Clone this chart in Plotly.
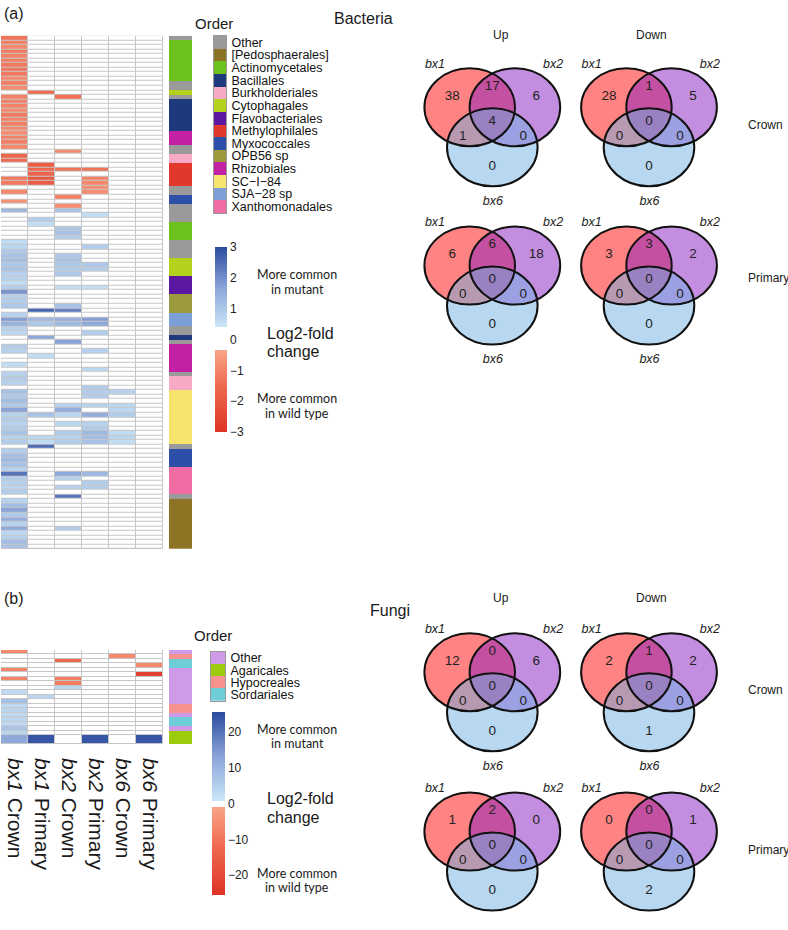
import plotly.graph_objects as go

W, H = 788, 930
FONT = "Liberation Sans, Arial, sans-serif"

# ---------------- data ----------------
sample_labels = ["<i>bx1</i> Crown", "<i>bx1</i> Primary", "<i>bx2</i> Crown",
                 "<i>bx2</i> Primary", "<i>bx6</i> Crown", "<i>bx6</i> Primary"]

# Bacteria: log2-fold change per OTU (rows top->bottom), one list per sample column
bact_bx1_crown = [
    -1.3, -1.1, -0.9, -1.2, -1.0, -1.1, -1.2, -1.3, -1.2, -0.9,
    -1.1, -0.8, 0, -1.0, -1.1, -1.0, -0.9, -1.2, -1.0, -1.1,
    -0.9, -0.8, -1.0, -1.1, -0.9, 0, -1.6, -1.5, 0, 0,
    0, -1.2, -1.2, 0, -0.9, 0, -0.7, 0, 1.3, 0,
    0, 0, 0, 0, 0, 0.6, 0.7, 1.0, 1.1, 1.2,
    1.0, 1.1, 0.8, 0.8, 0.6, 0.9, 1.9, 0.8, 0.9, 1.0,
    0, 0.8, 1.8, 1.4, 0.8, 0.7, 0, 0, 0.9, 0.8,
    0, 0, 0.6, 0, 0.8, 0.9, 0.8, 0, 1.1, 1.0,
    1.2, 1.0, 1.7, 0.8, 0.9, 0.8, 0.9, 1.1, 0.8, 0.9,
    0, 0.9, 1.2, 1.3, 1.1, 0.8, 2.4, 0.9, 0.8, 0.7,
    0.9, 0, 0.8, 1.2, 1.7, 1.0, 1.5, 0.8, 1.6, 0.7,
    0.8, 1.2, 1.1]
bact_bx1_primary = [
    0, 0, 0, 0, 0, 0, 0, 0, 0, 0,
    0, 0, -1.5, 0, 0, 0, 0, 0, 0, 0,
    0, 0, 0, 0, 0, 0, 0, 0, -1.8, -1.6,
    -1.7, -2.0, -1.9, 0, 0, 0, 0, 0, 0, 0,
    0.9, 0.6, 0, 0, 0, 0, 0, 0, 0, 0,
    0, 0, 0, 0, 0, 0, 0, 0, 0, 0,
    2.6, 0, 1.3, 1.0, 0, 0, 1.6, 0, 0, 0,
    0.6, 0, 0, 0, 0, 0, 0, 0, 0, 0,
    0, 0, 0, 1.1, 0, 0, 0, 0, 0.7, 0.6,
    2.5, 0, 0, 0, 0, 0, 0, 0, 0, 0,
    0, 0, 0, 0, 0, 0, 0, 0, 0, 0,
    0, 0, 0]
bact_bx2_crown = [
    0, 0, 0, 0, 0, 0, 0, 0, 0, 0,
    0, 0, 0, -1.4, 0, 0, 0, 0, 0, 0,
    0, 0, 0, 0, 0, -0.8, 0, 0, 0, -1.3,
    0, 0, 0, 0, 0, -1.0, 0, -0.8, 1.1, 0,
    0, 0, 1.0, 1.1, 0.9, 0, 0, 0, 1.0, 1.1,
    1.0, 0.9, 1.0, 0, 0, 0.6, 0, 0, 0, 1.1,
    2.2, 0, 1.5, 1.3, 0, 0, 0, 1.7, 0, 0,
    0, 0, 0, 0, 0, 0, 0, 0, 0, 0,
    0, 0.8, 1.5, 0.7, 0, 0.7, 0, 0.9, 0.8, 0.9,
    0, 0, 0, 0, 0, 0, 1.6, 0.8, 0, 0.8,
    0, 2.4, 0, 0, 0, 0, 0, 0, 0.9, 0,
    0, 0, 0]
bact_bx2_primary = [
    0, 0, 0, 0, 0, 0, 0, 0, 0, 0,
    0, 0, 0, 0, 0, 0, 0, 0, 0, 0,
    0, 0, 0, 0, 0, 0, 0, 0, 0, -1.3,
    0, -1.0, -0.9, -0.8, -0.8, 0, 0, 0, 0, 0.6,
    0, 0, 0, 0, 0, 0, 0.9, 0, 0, 0,
    1.0, 0.9, 0, 0, 0, 0.6, 0, 0, 0, 0,
    0, 0, 1.8, 1.6, 0, 0.9, 0, 0, 0, 0.8,
    0, 0, 0, 0.7, 0, 0, 0, 0.9, 0.9, 0.9,
    0, 0.8, 0, 1.5, 0, 0.8, 0.9, 1.3, 1.2, 1.1,
    0, 0, 0, 0, 0, 0, 1.3, 0, 0.9, 0.9,
    0, 0, 0, 0, 0, 0, 0, 0, 0, 0,
    0, 0, 0]
bact_bx6_crown = [
    0, 0, 0, 0, 0, 0, 0, 0, 0, 0,
    0, 0, 0, 0, 0, 0, 0, 0, 0, 0,
    0, 0, 0, 0, 0, 0, 0, 0, 0, 0,
    0, 0, 0, 0, 0, 0, 0, 0, 0, 0,
    0, 0, 0, 0, 0, 0, 0, 0, 0, 0,
    0, 0, 0, 0, 0, 0, 0, 0, 0, 0,
    0, 0, 0, 0, 0, 0, 0, 0, 0, 0,
    0, 0, 0, 0, 0, 0, 0, 0, 0.8, 0,
    0, 0.7, 0.7, 0.9, 0, 0, 0, 0.6, 0.7, 0.6,
    0, 0, 0, 0, 0, 0, 0, 0, 0, 0,
    0, 0, 0, 0, 0, 0, 0, 0, 0, 0,
    0, 0, 0]
bact_bx6_primary = [
    0, 0, 0, 0, 0, 0, 0, 0, 0, 0,
    0, 0, 0, 0, 0, 0, 0, 0, 0, 0,
    0, 0, 0, 0, 0, 0, 0, 0, 0, 0,
    0, 0, 0, 0, 0, 0, 0, 0, 0, 0,
    0, 0, 0, 0, 0, 0, 0, 0, 0, 0,
    0, 0, 0, 0, 0, 0, 0, 0, 0, 0,
    0, 0, 0, 0, 0, 0, 0, 0, 0, 0,
    0, 0, 0, 0, 0, 0, 0, 0, 0, 0,
    0, 0, 0, 0, 0, 0, 0, 0, 0, 0,
    0, 0, 0, 0, 0, 0, 0, 0, 0, 0,
    0, 0, 0, 0, 0, 0, 0, 0, 0, 0,
    0, 0, 0]

bact_order_names = ["Other", "[Pedosphaerales]", "Actinomycetales", "Bacillales",
                    "Burkholderiales", "Cytophagales", "Flavobacteriales", "Methylophilales",
                    "Myxococcales", "OPB56 sp", "Rhizobiales", "SC\u2212I\u221284",
                    "SJA\u221228 sp", "Xanthomonadales"]
bact_order_colors = ["#9a9a9a", "#8c7424", "#6cc11a", "#1f3a7c", "#f8a9c6", "#b3d21c",
                     "#5c18a2", "#e0392b", "#2c50a8", "#9b9a3c", "#c320a5", "#f6e46f",
                     "#7c9fd8", "#f06ca5"]
# order of each OTU row, as (order, number of consecutive rows)
bact_order_runs = [("Other", 1), ("Actinomycetales", 9), ("Other", 2), ("Cytophagales", 1),
                   ("Other", 1), ("Bacillales", 7), ("Rhizobiales", 3), ("Other", 2),
                   ("Burkholderiales", 2), ("Methylophilales", 5), ("Other", 2),
                   ("Myxococcales", 2), ("Other", 4), ("Actinomycetales", 4), ("Other", 4),
                   ("Cytophagales", 4), ("Flavobacteriales", 4), ("OPB56 sp", 4),
                   ("SJA\u221228 sp", 3), ("Other", 2), ("Bacillales", 1), ("Other", 1),
                   ("Rhizobiales", 6), ("Other", 1), ("Burkholderiales", 3),
                   ("SC\u2212I\u221284", 12), ("Other", 1), ("Myxococcales", 4),
                   ("Xanthomonadales", 6), ("Other", 1), ("[Pedosphaerales]", 11)]

# Fungi
fungi_bx1_crown = [-6, 0, 0, 0, -7, 0, -7, 0, 0, 3, 0, 8, 3, 4, 3, 4, 3, 7, 4, 12]
fungi_bx1_primary = [0, 0, 0, 0, 0, 0, 0, 0, 0, 0, 4, 0, 0, 0, 0, 0, 0, 0, 0, 24]
fungi_bx2_crown = [0, 0, -13, 0, 0, 0, -8, -8, 4, 0, 0, 0, 0, 0, 0, 0, 0, 0, 0, 0]
fungi_bx2_primary = [0, 0, 0, 0, 0, 0, 0, 0, 0, 0, 0, 0, 0, 0, 0, 0, 0, 0, 0, 24]
fungi_bx6_crown = [0, -6, 0, 0, 0, 0, 0, 0, 0, 0, 0, 0, 0, 0, 0, 0, 0, 0, 0, 0]
fungi_bx6_primary = [0, 0, 0, -6, 0, -22, 0, 0, 0, 0, 0, 0, 0, 0, 0, 0, 0, 0, 0, 24]
fungi_row_span = [1, 1, 1, 1, 1, 1, 1, 1, 1, 1, 1, 1, 1, 1, 1, 1, 1, 1, 1, 2]

fungi_order_names = ["Other", "Agaricales", "Hypocreales", "Sordariales"]
fungi_order_colors = ["#cf9be8", "#9ccb0b", "#f7938f", "#6ecdd6"]
fungi_order_runs = [("Other", 1), ("Hypocreales", 1), ("Sordariales", 2), ("Other", 8),
                    ("Hypocreales", 2), ("Other", 1), ("Sordariales", 2), ("Other", 1),
                    ("Agaricales", 2)]

# Venn counts: [bx1 only, bx1&bx2, bx2 only, bx1&bx6, all three, bx2&bx6, bx6 only]
bact_up_crown = [38, 17, 6, 1, 4, 0, 0]
bact_down_crown = [28, 1, 5, 0, 0, 0, 0]
bact_up_primary = [6, 6, 18, 0, 0, 0, 0]
bact_down_primary = [3, 3, 2, 0, 0, 0, 0]
fungi_up_crown = [12, 0, 6, 0, 0, 0, 0]
fungi_down_crown = [2, 1, 2, 0, 0, 0, 1]
fungi_up_primary = [1, 2, 0, 0, 0, 0, 0]
fungi_down_primary = [0, 0, 1, 0, 0, 0, 2]

# ---------------- helpers ----------------
def dx(x0, x1):
    return [x0 / W, x1 / W]


def dy(y0, y1):
    return [1 - y1 / H, 1 - y0 / H]


def expand(runs, names):
    out = []
    for name, n in runs:
        out += [names.index(name)] * n
    return out


def discrete_cs(colors):
    n = len(colors)
    cs = []
    for i, c in enumerate(colors):
        cs += [[i / n, c], [(i + 1) / n, c]]
    return cs


def hidden_axis(**kw):
    d = dict(showgrid=False, zeroline=False, showticklabels=False, ticks="",
             showline=False, fixedrange=True, automargin=False)
    d.update(kw)
    return d


def bicolor_scale(lo, neg_top, pos_bot, hi):
    def p(v):
        return (v - lo) / (hi - lo)
    return [[0, "#de3326"], [p((lo + neg_top) / 2 * 0.9), "#ee6a50"], [p(neg_top), "#f9a487"],
            [p(neg_top) + 1e-4, "#ffffff"], [p(pos_bot), "#ffffff"],
            [p(pos_bot) + 1e-4, "#cbe7f8"], [p((hi + pos_bot) / 2), "#8aa3d8"], [1, "#2a4b9f"]]


fig = go.Figure()
layout = dict(width=W, height=H, margin=dict(l=0, r=0, t=0, b=0, autoexpand=False),
              paper_bgcolor="white", plot_bgcolor="white", showlegend=False,
              template="none", font=dict(family=FONT, color="#1a1a1a"))
shapes = []
annotations = []

# ---------------- bacteria heatmap ----------------
bact_cols = [bact_bx1_crown, bact_bx1_primary, bact_bx2_crown, bact_bx2_primary,
             bact_bx6_crown, bact_bx6_primary]
nb = len(bact_bx1_crown)
bz = [[c[i] for c in bact_cols] for i in range(nb)]
fig.add_trace(go.Heatmap(z=bz, x=list(range(6)), y=list(range(nb)), coloraxis="coloraxis",
                         xgap=1, ygap=1, xaxis="x", yaxis="y", hoverinfo="skip"))
layout["xaxis"] = hidden_axis(domain=dx(1, 163), range=[-0.5, 5.5], anchor="y")
layout["yaxis"] = hidden_axis(domain=dy(35.7, 549), range=[nb - 0.5, -0.5], anchor="x")
shapes.append(dict(type="rect", xref="x domain", yref="y domain", x0=0, x1=1, y0=0, y1=1,
                   fillcolor="#c6c6c6", line=dict(width=0), layer="below"))

# bacteria order strip
bidx = expand(bact_order_runs, bact_order_names)
nbo = len(bact_order_names)
fig.add_trace(go.Heatmap(z=[[i] for i in bidx], x=[0], y=list(range(nb)),
                         colorscale=discrete_cs(bact_order_colors), zmin=-0.5, zmax=nbo - 0.5,
                         showscale=False, xaxis="x2", yaxis="y2", hoverinfo="skip"))
layout["xaxis2"] = hidden_axis(domain=dx(169, 192), range=[-0.5, 0.5], anchor="y2")
layout["yaxis2"] = hidden_axis(domain=dy(35.7, 549), range=[nb - 0.5, -0.5], anchor="x2")

# bacteria order legend
fig.add_trace(go.Heatmap(z=[[i] for i in range(nbo)], x=[0], y=list(range(nbo)),
                         colorscale=discrete_cs(bact_order_colors), zmin=-0.5, zmax=nbo - 0.5,
                         showscale=False, xaxis="x3", yaxis="y3", hoverinfo="skip"))
layout["xaxis3"] = hidden_axis(domain=dx(214, 226), range=[-0.5, 0.5], anchor="y3",
                               showline=True, mirror=True, linecolor="#999", linewidth=1)
layout["yaxis3"] = hidden_axis(domain=dy(36, 213), range=[nbo - 0.5, -0.5], anchor="x3",
                               side="right", showticklabels=True, tickvals=list(range(nbo)),
                               ticktext=bact_order_names, ticklabelstandoff=2,
                               tickfont=dict(size=12.5, color="#111"),
                               showline=True, mirror=True, linecolor="#999", linewidth=1)

# ---------------- fungi heatmap ----------------
fungi_cols = [fungi_bx1_crown, fungi_bx1_primary, fungi_bx2_crown, fungi_bx2_primary,
              fungi_bx6_crown, fungi_bx6_primary]
nf = len(fungi_bx1_crown)
fz = [[c[i] for c in fungi_cols] for i in range(nf)]
fedges = [0]
for s in fungi_row_span:
    fedges.append(fedges[-1] + s)
fig.add_trace(go.Heatmap(z=fz, x=list(range(6)), y=fedges, coloraxis="coloraxis2",
                         xgap=1, ygap=1, xaxis="x4", yaxis="y4", hoverinfo="skip"))
layout["xaxis4"] = hidden_axis(domain=dx(1, 163), range=[-0.5, 5.5], anchor="y4",
                               showticklabels=True, tickvals=list(range(6)),
                               ticktext=sample_labels, tickangle=90, ticklabelstandoff=13,
                               tickfont=dict(size=21, color="#1a1a1a"))
layout["yaxis4"] = hidden_axis(domain=dy(650, 744), range=[fedges[-1], 0], anchor="x4")
shapes.append(dict(type="rect", xref="x4 domain", yref="y4 domain", x0=0, x1=1, y0=0, y1=1,
                   fillcolor="#c6c6c6", line=dict(width=0), layer="below"))

fidx = expand(fungi_order_runs, fungi_order_names)
nfo = len(fungi_order_names)
fig.add_trace(go.Heatmap(z=[[i] for i in fidx], x=[0], y=fedges,
                         colorscale=discrete_cs(fungi_order_colors), zmin=-0.5, zmax=nfo - 0.5,
                         showscale=False, xaxis="x5", yaxis="y5", hoverinfo="skip"))
layout["xaxis5"] = hidden_axis(domain=dx(169, 192), range=[-0.5, 0.5], anchor="y5")
layout["yaxis5"] = hidden_axis(domain=dy(650, 744), range=[fedges[-1], 0], anchor="x5")

fig.add_trace(go.Heatmap(z=[[i] for i in range(nfo)], x=[0], y=list(range(nfo)),
                         colorscale=discrete_cs(fungi_order_colors), zmin=-0.5, zmax=nfo - 0.5,
                         showscale=False, xaxis="x6", yaxis="y6", hoverinfo="skip"))
layout["xaxis6"] = hidden_axis(domain=dx(211, 225), range=[-0.5, 0.5], anchor="y6",
                               showline=True, mirror=True, linecolor="#999", linewidth=1)
layout["yaxis6"] = hidden_axis(domain=dy(651.7, 701), range=[nfo - 0.5, -0.5], anchor="x6",
                               side="right", showticklabels=True, tickvals=list(range(nfo)),
                               ticktext=fungi_order_names, ticklabelstandoff=2,
                               tickfont=dict(size=12.5, color="#111"),
                               showline=True, mirror=True, linecolor="#999", linewidth=1)

# ---------------- colour axes ----------------
layout["coloraxis"] = dict(
    cmin=-3, cmax=3, colorscale=bicolor_scale(-3, -0.35, 0.4, 3),
    colorbar=dict(x=215 / W, xanchor="left", xpad=0, y=1 - 339.5 / H, yanchor="middle",
                  ypad=0, len=185, lenmode="pixels", thickness=12, thicknessmode="pixels",
                  outlinewidth=0, tickvals=[3, 2, 1, 0, -1, -2, -3], ticks="",
                  tickfont=dict(size=12, color="#222")))
layout["coloraxis2"] = dict(
    cmin=-25.5, cmax=25.5, colorscale=bicolor_scale(-25.5, -1, 0.7, 25.5),
    colorbar=dict(x=212 / W, xanchor="left", xpad=0, y=1 - 803.5 / H, yanchor="middle",
                  ypad=0, len=183, lenmode="pixels", thickness=13, thicknessmode="pixels",
                  outlinewidth=0, tickvals=[20, 10, 0, -10, -20], ticks="",
                  tickfont=dict(size=12, color="#222")))

# ---------------- Venn diagrams ----------------
venn_circles = [(-22.6, 0.0, "rgba(255,8,8,0.5)"), (22.6, 0.0, "rgba(137,29,193,0.5)"),
                (0.0, -40.0, "rgba(111,177,225,0.5)")]
RX, RY = 45.3, 39.0
region_xy = [(-40, 10.5), (0, 20.5), (44, 10.5), (-29.5, -29.5), (0, -14.5), (31, -29.5), (0, -59.5)]
set_labels = [("<i>bx1</i>", -57.3, 42.3), ("<i>bx2</i>", 60.8, 42.3), ("<i>bx6</i>", 0.5, -94.7)]

venns = [(bact_up_crown, 492.3, 107.3, True), (bact_down_crown, 649.0, 107.3, True),
         (bact_up_primary, 492.3, 265.6, True), (bact_down_primary, 649.0, 265.6, True),
         (fungi_up_crown, 492.3, 672.3, True), (fungi_down_crown, 649.0, 672.3, True),
         (fungi_up_primary, 492.3, 831.6, False), (fungi_down_primary, 649.0, 831.6, False)]

for k, (counts, cx, cy, show6) in enumerate(venns):
    a = 7 + k
    xa, ya = "x%d" % a, "y%d" % a
    layout["xaxis%d" % a] = hidden_axis(domain=dx(cx - 75, cx + 75), range=[-75, 75],
                                        anchor=ya, visible=False)
    layout["yaxis%d" % a] = hidden_axis(domain=dy(cy - 55, cy + 98), range=[-98, 55],
                                        anchor=xa, visible=False)
    for (ex, ey, col) in venn_circles:
        shapes.append(dict(type="circle", xref=xa, yref=ya, x0=ex - RX, x1=ex + RX,
                           y0=ey - RY, y1=ey + RY, fillcolor=col, line=dict(width=0),
                           layer="below"))
    for (ex, ey, col) in venn_circles:
        shapes.append(dict(type="circle", xref=xa, yref=ya, x0=ex - RX, x1=ex + RX,
                           y0=ey - RY, y1=ey + RY, fillcolor="rgba(0,0,0,0)",
                           line=dict(width=2, color="#111"), layer="below"))
    fig.add_trace(go.Scatter(x=[p[0] for p in region_xy], y=[p[1] for p in region_xy],
                             text=[str(v) for v in counts], mode="text",
                             textfont=dict(size=13.5, color="#222", family=FONT),
                             xaxis=xa, yaxis=ya, cliponaxis=False, hoverinfo="skip"))
    labs = set_labels if show6 else set_labels[:2]
    fig.add_trace(go.Scatter(x=[l[1] for l in labs], y=[l[2] for l in labs],
                             text=[l[0] for l in labs], mode="text",
                             textfont=dict(size=12.5, color="#222", family=FONT),
                             xaxis=xa, yaxis=ya, cliponaxis=False, hoverinfo="skip"))


# ---------------- text annotations ----------------
def ann(text, px, py, size, xanchor="center", family=FONT, color="#1a1a1a"):
    annotations.append(dict(text=text, x=px / W, y=1 - py / H, xref="paper", yref="paper",
                            xanchor=xanchor, yanchor="middle", showarrow=False,
                            font=dict(size=size, family=family, color=color)))


ann("(a)", 2, 13, 16, "left")
ann("(b)", 2, 598, 16, "left")
ann("Order", 193, 24, 15, "left")
ann("Order", 192, 635, 15, "left")
ann("Bacteria", 332, 18, 16, "left")
ann("Fungi", 368, 610, 16, "left")
for ty in (35, 598):
    ann("Up", 500.7, ty, 12)
    ann("Down", 651.7, ty, 12)
ann("Crown", 746, 125, 12, "left")
ann("Primary", 746, 278, 12, "left")
ann("Crown", 746, 690, 12, "left")
ann("Primary", 746, 850, 12, "left")

for (y_mut, y_lfc, y_wt) in ((275, 333, 399), (729.5, 798, 873)):
    ann("More common", 297, y_mut, 12.5, family="Lato")
    ann("in mutant", 297, y_mut + 14, 12.5, family="Lato")
    ann("Log2-fold", 265, y_lfc, 16, "left")
    ann("change", 265, y_lfc + 19, 16, "left")
    ann("More common", 297, y_wt, 12.5, family="Lato")
    ann("in wild type", 297, y_wt + 14, 12.5, family="Lato")

layout["shapes"] = shapes
layout["annotations"] = annotations
fig.update_layout(**layout)
fig.write_html("out.html", config={"displayModeBar": False},
               post_script="document.body.style.margin='0px';document.body.style.overflow='hidden';")
